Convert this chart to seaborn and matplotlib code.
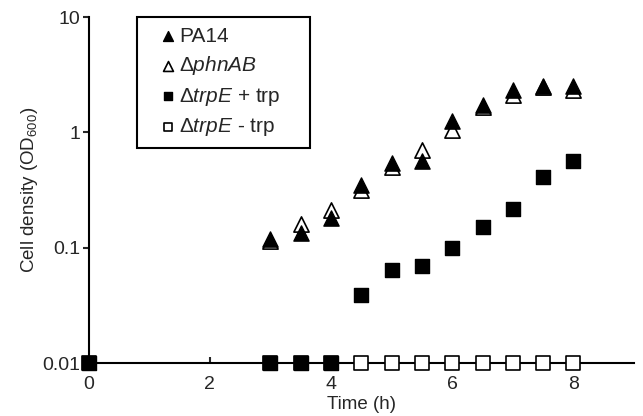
import numpy as np
import pandas as pd
import seaborn as sns
import matplotlib.pyplot as plt

# growth curves (OD600, log scale)
time_tri = [3, 3.5, 4, 4.5, 5, 5.5, 6, 6.5, 7, 7.5, 8]
pa14 = [0.119, 0.135, 0.182, 0.350, 0.543, 0.567, 1.25, 1.72, 2.35, 2.54, 2.53]
phnab = [0.114, 0.161, 0.212, 0.317, 0.504, 0.70, 1.04, 1.65, 2.09, 2.50, 2.33]

time_sq = [0, 3, 3.5, 4, 4.5, 5, 5.5, 6, 6.5, 7, 7.5, 8]
trpe_plus = [0.01, 0.01, 0.01, 0.01, 0.0387, 0.0647, 0.0697, 0.099, 0.151, 0.217, 0.41, 0.561]
trpe_minus = [0.01, 0.01, 0.01, 0.01, 0.01, 0.01, 0.01, 0.01, 0.01, 0.01, 0.01, 0.01]

labels = ['PA14', r'Δ$\mathit{phnAB}$', r'Δ$\mathit{trpE}$ + trp', r'Δ$\mathit{trpE}$ - trp']
yticks = [0.01, 0.1, 1, 10]
ytick_labels = ['0.01', '0.1', '1', '10']
xticks = [0, 2, 4, 6, 8]

sns.set_style('ticks')
plt.rcParams['font.family'] = ['Liberation Sans', 'DejaVu Sans']
plt.rcParams['mathtext.fontset'] = 'custom'
plt.rcParams['mathtext.rm'] = 'Liberation Sans'
plt.rcParams['mathtext.it'] = 'Liberation Sans:italic'

fig = plt.figure(figsize=(6.43, 4.16), dpi=100)
ax = fig.add_axes([0.138, 0.127, 0.848, 0.832])

tri = pd.DataFrame({'time': time_tri, 'pa14': pa14, 'phnab': phnab})
sq = pd.DataFrame({'time': time_sq, 'plus': trpe_plus, 'minus': trpe_minus})

sns.scatterplot(data=sq, x='time', y='minus', ax=ax, marker='s', s=90,
                color='white', edgecolor='black', linewidth=1.2,
                label=labels[3], clip_on=False, zorder=3)
sns.scatterplot(data=sq, x='time', y='plus', ax=ax, marker='s', s=90,
                color='black', edgecolor='black', linewidth=1,
                label=labels[2], clip_on=False, zorder=4)
sns.scatterplot(data=tri, x='time', y='phnab', ax=ax, marker='^', s=120,
                color='white', edgecolor='black', linewidth=1.2,
                label=labels[1], clip_on=False, zorder=3)
sns.scatterplot(data=tri, x='time', y='pa14', ax=ax, marker='^', s=120,
                color='black', edgecolor='black', linewidth=1,
                label=labels[0], clip_on=False, zorder=4)

ax.set_yscale('log')
ax.set_ylim(0.01, 10)
ax.set_xlim(0, 9)
ax.set_yticks(yticks)
ax.set_yticklabels(ytick_labels)
ax.yaxis.set_minor_locator(plt.NullLocator())
ax.set_xticks(xticks)
ax.tick_params(axis='x', direction='in', length=4, width=1.5, labelsize=14, pad=9)
ax.tick_params(axis='y', direction='out', length=4, width=1.5, labelsize=14, pad=2)

sns.despine(ax=ax)
for side in ['left', 'bottom']:
    ax.spines[side].set_linewidth(1.5)
    ax.spines[side].set_color('black')

ax.set_xlabel('Time (h)', fontsize=13.5, labelpad=2.5)
ax.set_ylabel('Cell density (OD$_{600}$)', fontsize=13.5, labelpad=2)

handles, labs = ax.get_legend_handles_labels()
order = [labs.index(l) for l in labels]
leg = ax.legend([handles[i] for i in order], [labs[i] for i in order],
                loc='upper left', bbox_to_anchor=(0.088, 0.0, 0.317, 1.0),
                mode='expand', borderaxespad=0,
                frameon=True, fancybox=False, fontsize=15, markerscale=0.65,
                labelspacing=0.41, handlelength=2.03, handletextpad=-0.47,
                borderpad=0.47)
leg.get_frame().set_edgecolor('black')
leg.get_frame().set_linewidth(1.5)
leg.get_frame().set_alpha(1)

fig.savefig('out.png', dpi=100)
